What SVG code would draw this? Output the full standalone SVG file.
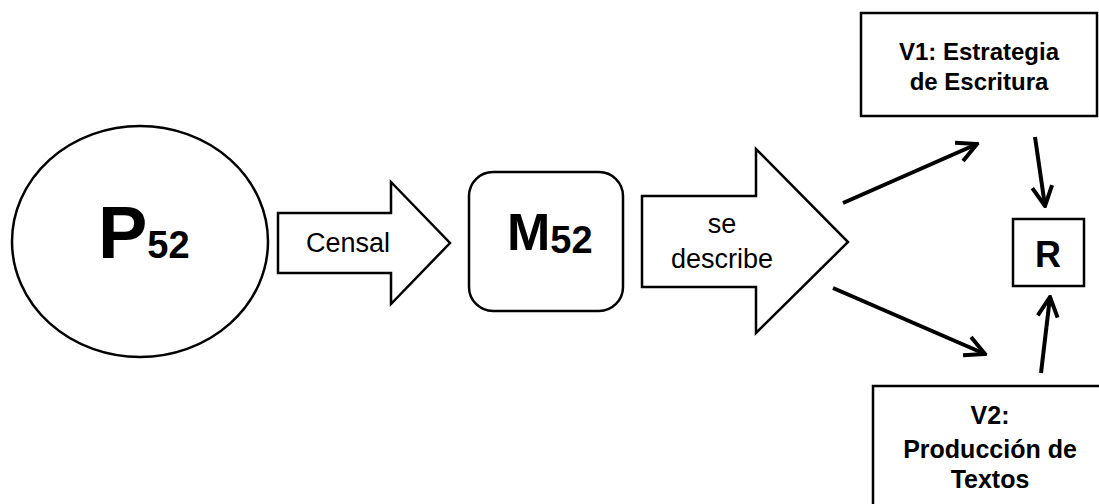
<svg xmlns="http://www.w3.org/2000/svg" width="1099" height="504" viewBox="0 0 1099 504">
<style>
.shape{fill:#fff;stroke:#000;stroke-width:2.5}
.t{font-family:"Liberation Sans",Arial,sans-serif;fill:#000}
.b{font-weight:bold}
.c{stroke:#000;stroke-width:4;fill:none}
</style>
<defs>
<marker id="ah" viewBox="-2 -12 24 24" refX="19.6" refY="0" markerWidth="24" markerHeight="24" markerUnits="userSpaceOnUse" orient="auto">
<path d="M0,-10 L19.6,0 L0,10" fill="none" stroke="#000" stroke-width="4" stroke-linejoin="miter"/>
</marker>
</defs>
<rect width="1099" height="504" fill="#fff"/>
<g id="P52">
<ellipse class="shape" cx="140" cy="241.5" rx="128" ry="115.5"/>
<text class="t b" x="98" y="258" font-size="74">P<tspan font-size="38">52</tspan></text>
</g>
<g id="censal">
<polygon class="shape" points="278,213 391,213 391,182 450,243 391,304 391,273 278,273"/>
<text class="t" x="348" y="252" font-size="27" text-anchor="middle">Censal</text>
</g>
<g id="M52">
<rect class="shape" x="469" y="172" width="154" height="139" rx="24"/>
<text class="t b" x="507" y="250" font-size="52">M<tspan font-size="38" dy="3">52</tspan></text>
</g>
<g id="describe">
<polygon class="shape" points="642,196 756,196 756,149 848,242 756,333 756,287 642,287"/>
<text class="t" x="722" y="233" font-size="27" text-anchor="middle">se</text>
<text class="t" x="722" y="268" font-size="27" text-anchor="middle">describe</text>
</g>
<g id="V1">
<rect class="shape" x="861" y="13" width="236" height="103"/>
<text class="t b" x="979" y="60" font-size="24" text-anchor="middle">V1: Estrategia</text>
<text class="t b" x="979" y="90" font-size="24" text-anchor="middle">de Escritura</text>
</g>
<g id="R">
<rect class="shape" x="1013" y="219" width="71" height="67"/>
<text class="t b" x="1048" y="267" font-size="36" text-anchor="middle">R</text>
</g>
<g id="V2">
<rect class="shape" x="873" y="386" width="240" height="140"/>
<text class="t b" x="990" y="424" font-size="25" text-anchor="middle">V2:</text>
<text class="t b" x="990" y="458" font-size="25" text-anchor="middle">Producción de</text>
<text class="t b" x="990" y="488" font-size="25" text-anchor="middle">Textos</text>
</g>
<g id="connectors">
<line class="c" x1="843" y1="203" x2="977" y2="144" marker-end="url(#ah)"/>
<line class="c" x1="833" y1="288" x2="985" y2="354" marker-end="url(#ah)"/>
<line class="c" x1="1035" y1="137" x2="1045" y2="206" marker-end="url(#ah)"/>
<line class="c" x1="1041" y1="373" x2="1050" y2="297" marker-end="url(#ah)"/>
</g>
</svg>
